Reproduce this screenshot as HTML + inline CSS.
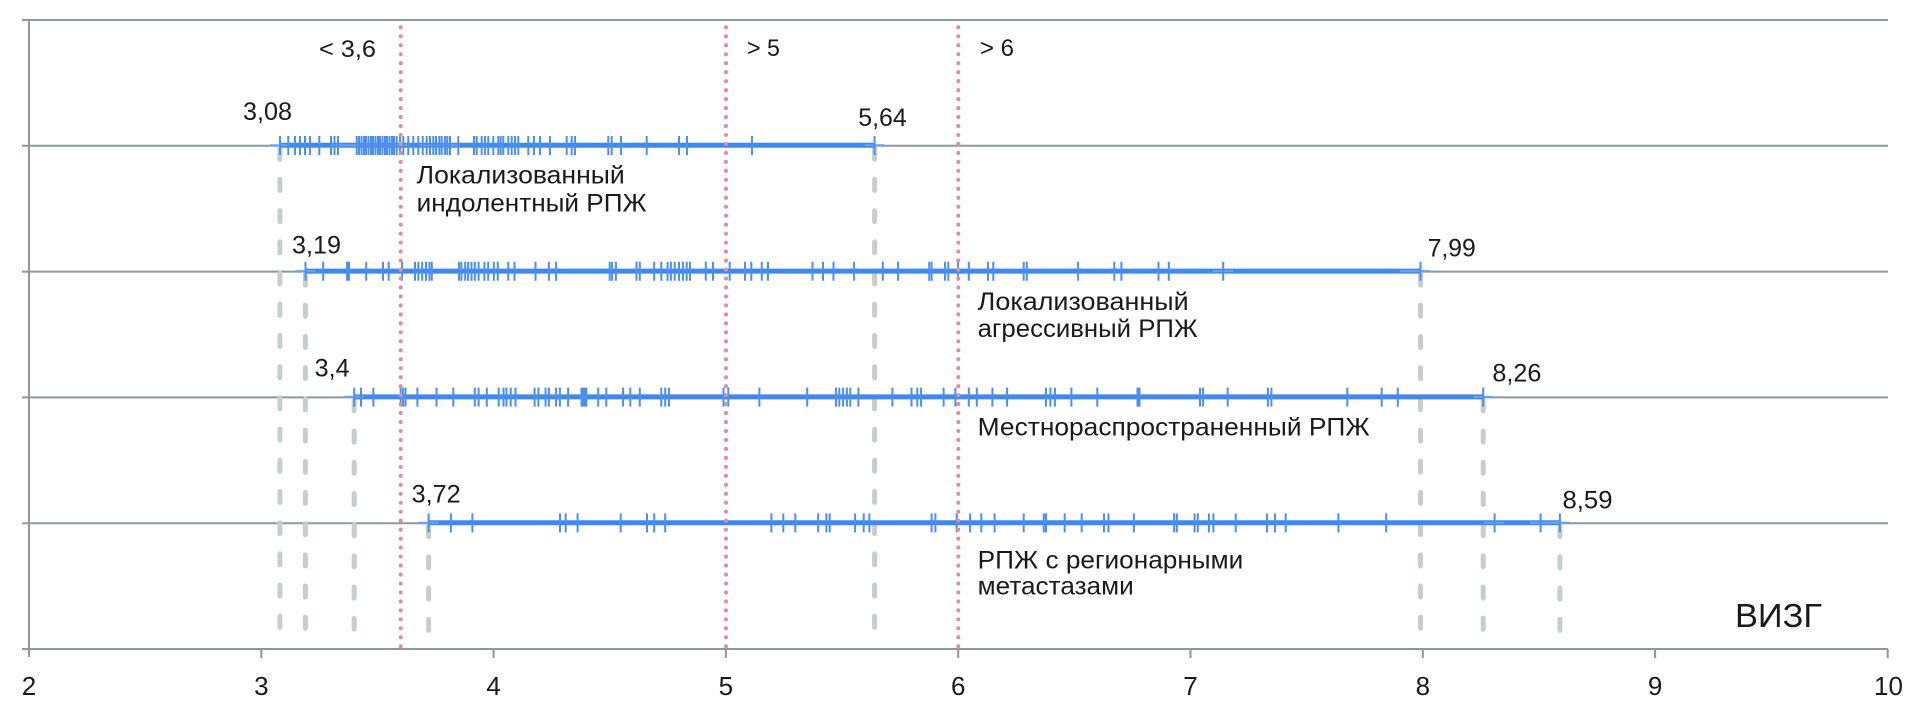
<!DOCTYPE html>
<html><head><meta charset="utf-8"><style>
html,body{margin:0;padding:0;background:#fff;}
svg{display:block;}
text{font-family:"Liberation Sans","DejaVu Sans",sans-serif;fill:#1a1a1a;}
</style></head><body>
<svg width="1923" height="714" viewBox="0 0 1923 714" xmlns="http://www.w3.org/2000/svg">
<rect width="1923" height="714" fill="#fff"/>
<!-- gridlines -->
<g stroke="#8d9898" stroke-width="2" fill="none">
<path d="M22 20H1888M22 145.8H1888M22 271.6H1888M22 397.4H1888M22 523.2H1888M22 649H1888"/>
<path d="M29 20V657"/>
<path d="M261.3 649v9M493.6 649v9M725.9 649v9M958.2 649v9M1190.5 649v9M1422.8 649v9M1655.1 649v9M1887.7 649v9"/>
</g>
<!-- gray dashed -->
<g stroke="#c6cdcb" stroke-width="5" stroke-linecap="round" stroke-dasharray="11 20.2" fill="none">
<path d="M279.9 148.3V646"/>
<path d="M305.4 274.1V646"/>
<path d="M354.2 399.9V646"/>
<path d="M428.6 525.7V646"/>
<path d="M874.6 148.3V646"/>
<path d="M1420.5 274.1V646"/>
<path d="M1483.2 399.9V646"/>
<path d="M1559.9 525.7V646"/>
</g>
<!-- blue lines -->
<g stroke="#3f88ee" stroke-width="5" fill="none">
<path d="M280 145.3H874.6"/>
<path d="M305.5 271.1H1420.5"/>
<path d="M354.2 396.9H1483.2"/>
<path d="M428.6 522.7H1559.9"/>
</g>
<!-- arms -->
<g stroke="#6aa3f2" stroke-width="2" fill="none">
<path d="M270 145.3h20M864.6 145.3h20M330 145.3h80M420 145.3h40"/>
<path d="M295.5 271.1h20M1410.5 271.1h20M1400 271.1h30M1213 271.1h20"/>
<path d="M344.2 396.9h20M1473.2 396.9h20"/>
<path d="M418.6 522.7h20M1549.9 522.7h20M1484 522.7h20M1530 522.7h20"/>
</g>
<!-- tick markers -->
<g stroke="#4b8ff0" stroke-width="2" fill="none">
<path d="M280 136v19M288.3 136v19M295 136v19M300 136v19M305 136v19M310 136v19M319.3 136v19M331 136v19M334.5 136v19M338 136v19M356.7 136v19M359 136v19M361.5 136v19M364 136v19M366 136v19M368.5 136v19M371 136v19M373 136v19M375.5 136v19M378 136v19M380 136v19M382.5 136v19M385 136v19M387 136v19M389.5 136v19M392 136v19M394 136v19M396.7 136v19M400 136v19M403.3 136v19M408.3 136v19M413.3 136v19M418.3 136v19M422.7 136v19M426.7 136v19M430 136v19M433.3 136v19M436 136v19M439.3 136v19M441.7 136v19M445 136v19M447.3 136v19M450 136v19M458.3 136v19M474 136v19M476.7 136v19M481.7 136v19M485 136v19M488.3 136v19M493.3 136v19M498.3 136v19M500.7 136v19M503.3 136v19M508.3 136v19M511.7 136v19M515 136v19M518.3 136v19M528.3 136v19M534 136v19M540 136v19M550 136v19M566.7 136v19M571.7 136v19M575 136v19M608.3 136v19M611.7 136v19M621 136v19M646.7 136v19M679 136v19M687 136v19M752 136v19M874.6 136v19"/>
<path d="M305.5 261.8v19M323.2 261.8v19M347.1 261.8v19M349 261.8v19M366.2 261.8v19M383 261.8v19M388.7 261.8v19M402.1 261.8v19M415 261.8v19M418.4 261.8v19M422.2 261.8v19M426 261.8v19M429.4 261.8v19M431.8 261.8v19M459 261.8v19M461.4 261.8v19M465.2 261.8v19M468.1 261.8v19M471.5 261.8v19M474.8 261.8v19M478.6 261.8v19M484.4 261.8v19M488.2 261.8v19M493.9 261.8v19M497.8 261.8v19M508.3 261.8v19M514.5 261.8v19M535.5 261.8v19M548.9 261.8v19M556.1 261.8v19M609.7 261.8v19M612.1 261.8v19M615.9 261.8v19M636.5 261.8v19M639.8 261.8v19M654.2 261.8v19M661.3 261.8v19M667.6 261.8v19M670.9 261.8v19M674.7 261.8v19M679 261.8v19M682.9 261.8v19M686.7 261.8v19M690 261.8v19M705.8 261.8v19M713 261.8v19M729.7 261.8v19M745 261.8v19M751.3 261.8v19M761.8 261.8v19M768 261.8v19M812.5 261.8v19M823 261.8v19M833.5 261.8v19M854.1 261.8v19M882.8 261.8v19M898.1 261.8v19M929.2 261.8v19M931.6 261.8v19M945 261.8v19M948.3 261.8v19M958 261.8v19M968.8 261.8v19M988 261.8v19M993.3 261.8v19M1023.7 261.8v19M1026.8 261.8v19M1078.1 261.8v19M1114.3 261.8v19M1121.4 261.8v19M1158.5 261.8v19M1168.8 261.8v19M1223.2 261.8v19M1420.5 261.8v19"/>
<path d="M354.2 387.6v19M361 387.6v19M373.4 387.6v19M400.7 387.6v19M403.1 387.6v19M405.5 387.6v19M417.4 387.6v19M436.5 387.6v19M453.3 387.6v19M474.8 387.6v19M478.6 387.6v19M486.8 387.6v19M498.7 387.6v19M503.5 387.6v19M506.4 387.6v19M510.7 387.6v19M515.5 387.6v19M534.6 387.6v19M538.4 387.6v19M545.6 387.6v19M548.9 387.6v19M556.1 387.6v19M559.9 387.6v19M568.1 387.6v19M581.5 387.6v19M582.5 387.6v19M583.4 387.6v19M584.5 387.6v19M586.3 387.6v19M598.2 387.6v19M606.3 387.6v19M623.1 387.6v19M630.3 387.6v19M639.8 387.6v19M661.3 387.6v19M665.2 387.6v19M669 387.6v19M723.5 387.6v19M728.3 387.6v19M759.4 387.6v19M807.2 387.6v19M836 387.6v19M839.3 387.6v19M843.1 387.6v19M846.9 387.6v19M850.3 387.6v19M858.4 387.6v19M892.4 387.6v19M911.5 387.6v19M917.3 387.6v19M921.1 387.6v19M943.6 387.6v19M955.4 387.6v19M968.8 387.6v19M976.8 387.6v19M992.4 387.6v19M1007.1 387.6v19M1046 387.6v19M1050.4 387.6v19M1054.9 387.6v19M1071.4 387.6v19M1097.3 387.6v19M1137.5 387.6v19M1139.5 387.6v19M1200 387.6v19M1203.1 387.6v19M1227.7 387.6v19M1267.9 387.6v19M1271.4 387.6v19M1347.3 387.6v19M1381.7 387.6v19M1397.8 387.6v19M1483.2 387.6v19"/>
<path d="M428.6 513.4v19M450.9 513.4v19M472.4 513.4v19M560 513.4v19M565.7 513.4v19M577.6 513.4v19M620.7 513.4v19M647 513.4v19M654.2 513.4v19M665.2 513.4v19M771.4 513.4v19M783.3 513.4v19M795.3 513.4v19M818.2 513.4v19M826.4 513.4v19M829.7 513.4v19M855.1 513.4v19M863.7 513.4v19M869.4 513.4v19M931.6 513.4v19M935.4 513.4v19M956.7 513.4v19M970.1 513.4v19M981.3 513.4v19M994.6 513.4v19M1023.7 513.4v19M1043.8 513.4v19M1046 513.4v19M1064.7 513.4v19M1081.7 513.4v19M1104 513.4v19M1108.5 513.4v19M1133.9 513.4v19M1174.1 513.4v19M1176.8 513.4v19M1194.6 513.4v19M1197.8 513.4v19M1208.9 513.4v19M1213.4 513.4v19M1235.7 513.4v19M1267 513.4v19M1275 513.4v19M1285.7 513.4v19M1338.4 513.4v19M1386.2 513.4v19M1494.6 513.4v19M1540.6 513.4v19M1559.9 513.4v19"/>
</g>
<!-- pink dotted -->
<g stroke="#e28ca3" stroke-width="4" stroke-linecap="round" stroke-dasharray="0.1 8.87" fill="none">
<path d="M400.7 27.3V649"/>
<path d="M726 27.3V649"/>
<path d="M958.3 27.3V649"/>
</g>
<!-- header labels -->
<g font-size="24.5">
<text x="319" y="57" textLength="57" lengthAdjust="spacingAndGlyphs">&lt; 3,6</text>
<text x="747" y="56" textLength="33" lengthAdjust="spacingAndGlyphs">&gt; 5</text>
<text x="980" y="56" textLength="34" lengthAdjust="spacingAndGlyphs">&gt; 6</text>
</g>
<!-- value labels -->
<g font-size="25">
<text x="243" y="120" textLength="49" lengthAdjust="spacingAndGlyphs">3,08</text>
<text x="858.3" y="126" textLength="48.4" lengthAdjust="spacingAndGlyphs">5,64</text>
<text x="292" y="253.5" textLength="49" lengthAdjust="spacingAndGlyphs">3,19</text>
<text x="1427.7" y="256.7" textLength="48" lengthAdjust="spacingAndGlyphs">7,99</text>
<text x="314.6" y="376.7" textLength="35" lengthAdjust="spacingAndGlyphs">3,4</text>
<text x="1492.4" y="381.7" textLength="49" lengthAdjust="spacingAndGlyphs">8,26</text>
<text x="411.7" y="502.3" textLength="49" lengthAdjust="spacingAndGlyphs">3,72</text>
<text x="1562.5" y="508.3" textLength="50" lengthAdjust="spacingAndGlyphs">8,59</text>
</g>
<!-- category labels -->
<g font-size="25">
<text x="416.7" y="183.3" textLength="208" lengthAdjust="spacingAndGlyphs">Локализованный</text>
<text x="416.7" y="211.5" textLength="230" lengthAdjust="spacingAndGlyphs">индолентный РПЖ</text>
<text x="977.7" y="310" textLength="211" lengthAdjust="spacingAndGlyphs">Локализованный</text>
<text x="977.7" y="337" textLength="220" lengthAdjust="spacingAndGlyphs">агрессивный РПЖ</text>
<text x="977.7" y="435.3" textLength="392" lengthAdjust="spacingAndGlyphs">Местнораспространенный РПЖ</text>
<text x="977.7" y="568.5" textLength="265.6" lengthAdjust="spacingAndGlyphs">РПЖ с регионарными</text>
<text x="977.7" y="594.5" textLength="156" lengthAdjust="spacingAndGlyphs">метастазами</text>
</g>
<text x="1735" y="627" font-size="33" textLength="87" lengthAdjust="spacingAndGlyphs">ВИЗГ</text>
<!-- axis tick labels -->
<g font-size="26" text-anchor="middle">
<text x="29" y="695">2</text>
<text x="261.3" y="695">3</text>
<text x="493.6" y="695">4</text>
<text x="725.9" y="695">5</text>
<text x="958.2" y="695">6</text>
<text x="1190.5" y="695">7</text>
<text x="1422.8" y="695">8</text>
<text x="1655.1" y="695">9</text>
<text x="1888.5" y="695">10</text>
</g>
</svg>
</body></html>
